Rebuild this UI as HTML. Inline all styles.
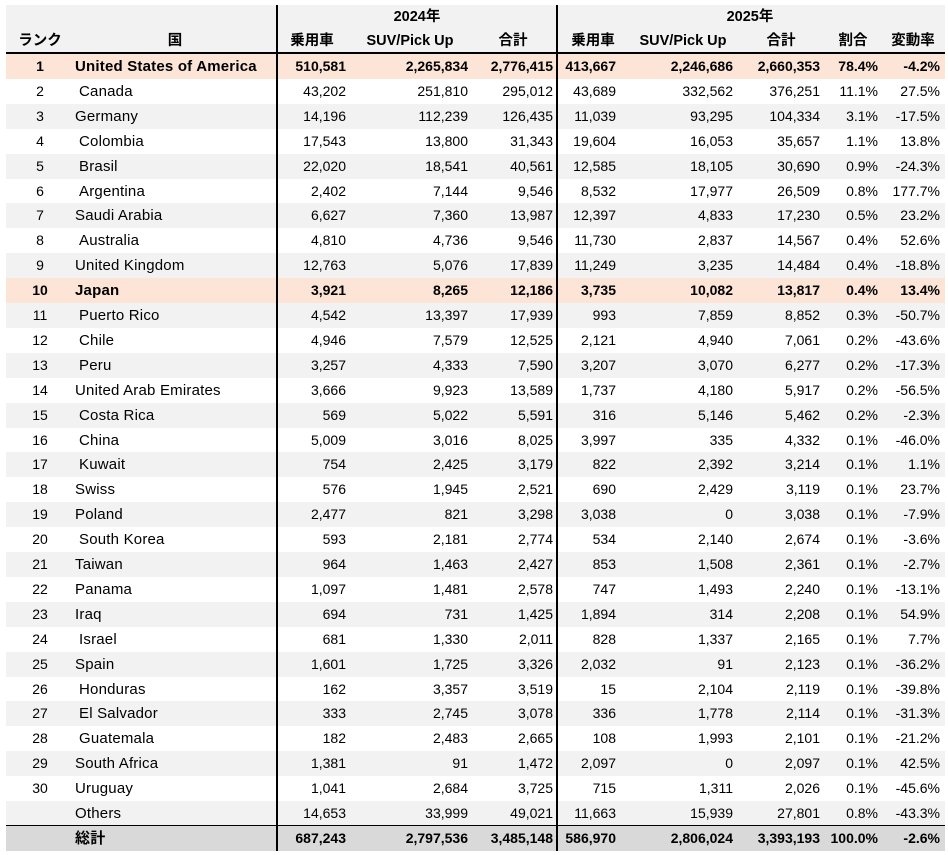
<!DOCTYPE html>
<html><head><meta charset="utf-8"><style>
body{margin:0;width:948px;height:855px;background:#fff;position:relative;overflow:hidden;font-family:"Liberation Sans","Noto Sans CJK JP",sans-serif;font-size:14px;color:#000}
.a{position:absolute;white-space:nowrap;line-height:25px}
.bg{position:absolute;left:6px;width:939px}
.cn{font-size:15px;letter-spacing:0.2px}
</style></head><body>
<div class="bg" style="top:5px;height:48px;background:#f2f2f2"></div>
<div class="bg" style="top:52px;height:1.5px;background:#000"></div>
<div id="rows"></div>
<div class="a" style="left:337px;width:160px;text-align:center;top:5px;font-weight:bold;font-size:14.5px">2024年</div>
<div class="a" style="left:670px;width:160px;text-align:center;top:5px;font-weight:bold;font-size:14.5px">2025年</div>
<div id="cols"></div>
<div style="position:absolute;left:276px;top:5px;width:1.5px;height:846px;background:#000"></div>
<div style="position:absolute;left:556px;top:5px;width:1.5px;height:846px;background:#000"></div>
<script>
const headers=["ランク","国","乗用車","SUV/Pick Up","合計","乗用車","SUV/Pick Up","合計","割合","変動率"];
const headerCenters=[40,175,312,410,513,593,683,781,853,913];
const rights=[0,0,346,468,553,616,733,820,878,940];
const countries=["United States of America"," Canada","Germany"," Colombia"," Brasil"," Argentina","Saudi Arabia"," Australia","United Kingdom","Japan"," Puerto Rico"," Chile"," Peru","United Arab Emirates"," Costa Rica"," China"," Kuwait","Swiss","Poland"," South Korea","Taiwan","Panama","Iraq"," Israel","Spain"," Honduras"," El Salvador"," Guatemala","South Africa","Uruguay","Others"];
const pc2024=["510,581","43,202","14,196","17,543","22,020","2,402","6,627","4,810","12,763","3,921","4,542","4,946","3,257","3,666","569","5,009","754","576","2,477","593","964","1,097","694","681","1,601","162","333","182","1,381","1,041","14,653"];
const suv2024=["2,265,834","251,810","112,239","13,800","18,541","7,144","7,360","4,736","5,076","8,265","13,397","7,579","4,333","9,923","5,022","3,016","2,425","1,945","821","2,181","1,463","1,481","731","1,330","1,725","3,357","2,745","2,483","91","2,684","33,999"];
const tot2024=["2,776,415","295,012","126,435","31,343","40,561","9,546","13,987","9,546","17,839","12,186","17,939","12,525","7,590","13,589","5,591","8,025","3,179","2,521","3,298","2,774","2,427","2,578","1,425","2,011","3,326","3,519","3,078","2,665","1,472","3,725","49,021"];
const pc2025=["413,667","43,689","11,039","19,604","12,585","8,532","12,397","11,730","11,249","3,735","993","2,121","3,207","1,737","316","3,997","822","690","3,038","534","853","747","1,894","828","2,032","15","336","108","2,097","715","11,663"];
const suv2025=["2,246,686","332,562","93,295","16,053","18,105","17,977","4,833","2,837","3,235","10,082","7,859","4,940","3,070","4,180","5,146","335","2,392","2,429","0","2,140","1,508","1,493","314","1,337","91","2,104","1,778","1,993","0","1,311","15,939"];
const tot2025=["2,660,353","376,251","104,334","35,657","30,690","26,509","17,230","14,567","14,484","13,817","8,852","7,061","6,277","5,917","5,462","4,332","3,214","3,119","3,038","2,674","2,361","2,240","2,208","2,165","2,123","2,119","2,114","2,101","2,097","2,026","27,801"];
const share=["78.4%","11.1%","3.1%","1.1%","0.9%","0.8%","0.5%","0.4%","0.4%","0.4%","0.3%","0.2%","0.2%","0.2%","0.2%","0.1%","0.1%","0.1%","0.1%","0.1%","0.1%","0.1%","0.1%","0.1%","0.1%","0.1%","0.1%","0.1%","0.1%","0.1%","0.8%"];
const change=["-4.2%","27.5%","-17.5%","13.8%","-24.3%","177.7%","23.2%","52.6%","-18.8%","13.4%","-50.7%","-43.6%","-17.3%","-56.5%","-2.3%","-46.0%","1.1%","23.7%","-7.9%","-3.6%","-2.7%","-13.1%","54.9%","7.7%","-36.2%","-39.8%","-31.3%","-21.2%","42.5%","-45.6%","-43.3%"];
const totals=["687,243","2,797,536","3,485,148","586,970","2,806,024","3,393,193","100.0%","-2.6%"];
const highlight=[0,9];
const colNames=["rank","country","cars-2024","suv-2024","total-2024","cars-2025","suv-2025","total-2025","share","change"];
function txt(parent,t,style,bold){const d=document.createElement('div');d.className='a';d.textContent=t;d.style.cssText=style;if(bold)d.style.fontWeight='bold';parent.appendChild(d);return d;}
const cols=document.getElementById('cols');
headers.forEach((h,i)=>{const d=txt(cols,h,`left:${headerCenters[i]-70}px;width:140px;text-align:center;top:29px;font-size:14.5px`,true);

});
const body=document.getElementById('rows');
const RH=24.9,T0=54;
function addRow(i,cells,rank,name,bg,bold,dn){
  const top=T0+RH*i;
  const r=document.createElement('div');r.className='bg';r.style.top=top+'px';r.style.height=RH+0.5+'px';r.style.background=bg;
  
  
  body.appendChild(r);
  const a=txt(body,rank,`left:10px;width:60px;text-align:center;top:${top}px`,bold);
  
  
  const ind=name.startsWith(' ')?4:0;
  const b=txt(body,name.trim(),`left:${75+ind}px;top:${top}px`,bold);
  b.classList.add('cn');
  
  
  cells.forEach((v,k)=>{const c=txt(body,v,`right:${948-rights[k+2]}px;top:${top}px`,bold);
    
    });
}
countries.forEach((c,i)=>{
  const hl=highlight.includes(i);
  const bg=hl?'#fce4d6':(i%2===0?'#f2f2f2':'#fff');
  addRow(i,[pc2024[i],suv2024[i],tot2024[i],pc2025[i],suv2025[i],tot2025[i],share[i],change[i]],i<30?String(i+1):'',c,bg,hl,'row-'+(i+1));
});
const tr=T0+RH*31;
const line=document.createElement('div');line.className='bg';line.style.cssText=`top:${tr-1}px;height:1.5px;background:#000;z-index:2`;


document.body.appendChild(line);
addRow(31,totals,'','総計','#d9d9d9',true,'total-row');
</script>
</body></html>
